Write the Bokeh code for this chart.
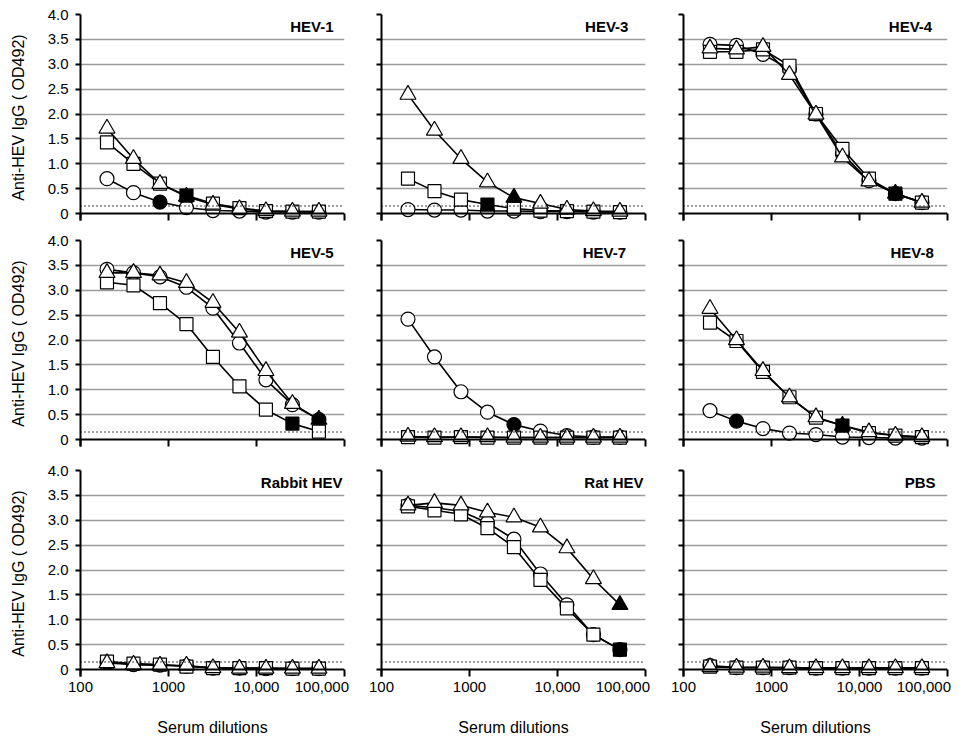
from bokeh.plotting import figure
from bokeh.layouts import gridplot
from bokeh.models import (Range1d, FixedTicker, Span, Label, NumeralTickFormatter,
                          CustomLabelingPolicy)
from bokeh.embed import file_html
from bokeh.resources import INLINE

# ---------------- data ----------------
dilutions = [200, 400, 800, 1600, 3200, 6400, 12800, 25600, 51200]
x_tick_values = [100, 1000, 10000, 100000]
x_tick_labels = ["100", "1000", "10,000", "100,000"]
y_tick_values = [0, 0.5, 1.0, 1.5, 2.0, 2.5, 3.0, 3.5, 4.0]
y_tick_labels = ["0", "0.5", "1.0", "1.5", "2.0", "2.5", "3.0", "3.5", "4.0"]
cutoff = 0.15

panel_titles = ["HEV-1", "HEV-3", "HEV-4", "HEV-5", "HEV-7", "HEV-8",
                "Rabbit HEV", "Rat HEV", "PBS"]
x_title = "Serum dilutions"
y_title = "Anti-HEV IgG ( OD492)"

hev1_circle = [0.70, 0.42, 0.23, 0.12, 0.06, 0.05, 0.03, 0.03, 0.03]
hev1_square = [1.43, 1.00, 0.60, 0.36, 0.20, 0.11, 0.05, 0.04, 0.04]
hev1_triangle = [1.71, 1.10, 0.60, 0.34, 0.18, 0.09, 0.05, 0.04, 0.04]
hev1_filled = [800, 1600, 1600]

hev3_circle = [0.08, 0.07, 0.07, 0.05, 0.05, 0.04, 0.04, 0.03, 0.03]
hev3_square = [0.70, 0.45, 0.28, 0.18, 0.10, 0.06, 0.05, 0.04, 0.03]
hev3_triangle = [2.39, 1.67, 1.10, 0.63, 0.32, 0.20, 0.08, 0.05, 0.04]
hev3_filled = [None, 1600, 3200]

hev4_circle = [3.40, 3.38, 3.20, 2.90, 2.00, 1.20, 0.66, 0.40, 0.22]
hev4_square = [3.25, 3.25, 3.30, 2.97, 2.00, 1.30, 0.70, 0.40, 0.22]
hev4_triangle = [3.32, 3.30, 3.35, 2.79, 1.99, 1.13, 0.65, 0.40, 0.22]
hev4_filled = [25600, 25600, 25600]

hev5_circle = [3.42, 3.35, 3.27, 3.06, 2.64, 1.94, 1.20, 0.70, 0.40]
hev5_square = [3.16, 3.10, 2.74, 2.32, 1.66, 1.07, 0.60, 0.32, 0.16]
hev5_triangle = [3.35, 3.35, 3.30, 3.15, 2.75, 2.15, 1.38, 0.72, 0.40]
hev5_filled = [51200, 25600, 51200]

hev7_circle = [2.42, 1.66, 0.96, 0.55, 0.30, 0.17, 0.08, 0.05, 0.05]
hev7_square = [0.05, 0.04, 0.05, 0.04, 0.04, 0.04, 0.04, 0.04, 0.04]
hev7_triangle = [0.06, 0.05, 0.05, 0.05, 0.04, 0.04, 0.04, 0.04, 0.04]
hev7_filled = [3200, None, None]

hev8_circle = [0.58, 0.37, 0.22, 0.13, 0.10, 0.05, 0.04, 0.03, 0.03]
hev8_square = [2.35, 1.98, 1.36, 0.85, 0.44, 0.28, 0.13, 0.08, 0.05]
hev8_triangle = [2.63, 2.00, 1.38, 0.85, 0.45, 0.28, 0.15, 0.08, 0.05]
hev8_filled = [400, 6400, 6400]

rabbit_circle = [0.15, 0.10, 0.09, 0.07, 0.03, 0.03, 0.02, 0.02, 0.02]
rabbit_square = [0.16, 0.12, 0.10, 0.06, 0.03, 0.03, 0.03, 0.02, 0.02]
rabbit_triangle = [0.13, 0.10, 0.08, 0.08, 0.03, 0.02, 0.02, 0.02, 0.02]
rabbit_filled = [None, None, None]

rat_circle = [3.30, 3.25, 3.18, 2.95, 2.62, 1.92, 1.30, 0.70, 0.40]
rat_square = [3.28, 3.20, 3.12, 2.84, 2.46, 1.80, 1.23, 0.70, 0.40]
rat_triangle = [3.30, 3.35, 3.30, 3.16, 3.06, 2.86, 2.44, 1.82, 1.30]
rat_filled = [51200, 51200, 51200]

pbs_circle = [0.08, 0.04, 0.04, 0.04, 0.03, 0.03, 0.03, 0.03, 0.03]
pbs_square = [0.06, 0.04, 0.04, 0.04, 0.03, 0.03, 0.03, 0.03, 0.03]
pbs_triangle = [0.05, 0.04, 0.04, 0.03, 0.03, 0.03, 0.03, 0.03, 0.03]
pbs_filled = [None, None, None]

panels = [
    (hev1_circle, hev1_square, hev1_triangle, hev1_filled),
    (hev3_circle, hev3_square, hev3_triangle, hev3_filled),
    (hev4_circle, hev4_square, hev4_triangle, hev4_filled),
    (hev5_circle, hev5_square, hev5_triangle, hev5_filled),
    (hev7_circle, hev7_square, hev7_triangle, hev7_filled),
    (hev8_circle, hev8_square, hev8_triangle, hev8_filled),
    (rabbit_circle, rabbit_square, rabbit_triangle, rabbit_filled),
    (rat_circle, rat_square, rat_triangle, rat_filled),
    (pbs_circle, pbs_square, pbs_triangle, pbs_filled),
]

# ---------------- layout / style ----------------
FONT = "Liberation Sans"
FW, FH = 264, 206
col_borders = [(80, 17), (20, 17), (21, 16)]
row_borders = [(14, 10), (10, 14), (10, 64)]
title_anchor_x = [75000, 64000, 67000, 75000, 60000, 70000, 95000, 95000, 73000]
title_anchor_y = 3.75
NBSP = "\u00a0"
# trailing padding shifts the last tick label left, as in the reference
x_label_pad = ["", "", "", NBSP * 3]

marker_styles = [("circle", 14), ("square", 13), ("triangle", 16)]

HIDE_ALL = """
for (const i of indices) { indices.unset(i) }
return indices
"""


def make_panel(idx):
    r, c = divmod(idx, 3)
    circle, square, triangle, filled = panels[idx]
    bl, br = col_borders[c]
    bt, bb = row_borders[r]
    p = figure(x_axis_type="log", x_range=Range1d(100, 100000),
               y_range=Range1d(-0.14, 4.0),
               frame_width=FW, frame_height=FH,
               min_border_left=bl, min_border_right=br,
               min_border_top=bt, min_border_bottom=bb,
               output_backend="svg", toolbar_location=None)
    p.outline_line_color = None
    p.background_fill_color = "white"
    p.border_fill_color = "white"

    # grid
    p.xgrid.visible = False
    p.ygrid.ticker = FixedTicker(ticks=y_tick_values[1:])
    p.ygrid.grid_line_color = "#9c9c9c"
    p.ygrid.grid_line_width = 1.3

    # y axis
    ya = p.yaxis[0]
    ya.ticker = FixedTicker(ticks=y_tick_values, minor_ticks=[])
    ya.formatter = NumeralTickFormatter(format="0.0")
    ya.major_label_overrides = {v: s for v, s in zip(y_tick_values, y_tick_labels)}
    ya.axis_line_color = "black"
    ya.axis_line_width = 2
    ya.major_tick_line_color = "black"
    ya.major_tick_line_width = 2
    ya.major_tick_in = 0
    ya.major_tick_out = 5
    ya.minor_tick_line_color = None
    ya.major_label_text_font = FONT
    ya.major_label_text_color = "black"
    if c == 0:
        ya.major_label_text_font_size = "15px"
        ya.major_label_standoff = 7
        ya.axis_label = y_title
        ya.axis_label_text_font = FONT
        ya.axis_label_text_font_size = "16px"
        ya.axis_label_text_font_style = "normal"
        ya.axis_label_text_color = "black"
        ya.axis_label_standoff = 18
    else:
        ya.major_label_text_font_size = "1px"
        ya.major_label_standoff = 0
        ya.major_label_policy = CustomLabelingPolicy(code=HIDE_ALL)

    # x axis: line drawn at y=0 by a span; ticks point up to it from frame bottom
    xa = p.xaxis[0]
    xa.ticker = FixedTicker(ticks=x_tick_values, minor_ticks=[])
    xa.axis_line_color = None
    xa.major_tick_line_color = "black"
    xa.major_tick_line_width = 2
    xa.major_tick_in = 7
    xa.major_tick_out = 0
    xa.minor_tick_line_color = None
    xa.major_label_text_font = FONT
    xa.major_label_text_color = "black"
    if r == 2:
        xa.major_label_overrides = {v: s + pad for v, s, pad in
                                    zip(x_tick_values, x_tick_labels, x_label_pad)}
        xa.major_label_text_font_size = "15px"
        xa.major_label_standoff = 1
        xa.axis_label = x_title
        xa.axis_label_text_font = FONT
        xa.axis_label_text_font_size = "16px"
        xa.axis_label_text_font_style = "normal"
        xa.axis_label_text_color = "black"
        xa.axis_label_standoff = 21
    else:
        xa.major_label_overrides = {v: s for v, s in zip(x_tick_values, x_tick_labels)}
        xa.major_label_text_font_size = "1px"
        xa.major_label_standoff = 0
        xa.major_label_policy = CustomLabelingPolicy(code=HIDE_ALL)

    p.add_layout(Span(location=0, dimension="width", line_color="black",
                      line_width=2))
    p.add_layout(Span(location=cutoff, dimension="width", line_color="black",
                      line_width=1.5, line_dash="1 3"))

    for vals, fill_at, (marker, size) in zip((circle, square, triangle), filled,
                                            marker_styles):
        fills = ["black" if d == fill_at else "white" for d in dilutions]
        p.line(dilutions, vals, line_color="black", line_width=1.6)
        p.scatter(dilutions, vals, marker=marker, size=size,
                  fill_color=fills, line_color="black", line_width=1.2)

    p.add_layout(Label(x=title_anchor_x[idx], y=title_anchor_y,
                       text=panel_titles[idx], text_align="right",
                       text_baseline="middle", text_font=FONT,
                       text_font_size="15px", text_font_style="bold",
                       text_color="black"))
    return p


figs = [make_panel(i) for i in range(9)]
grid = gridplot([figs[0:3], figs[3:6], figs[6:9]], toolbar_location=None)

open("out.html", "w").write(file_html(grid, INLINE))
